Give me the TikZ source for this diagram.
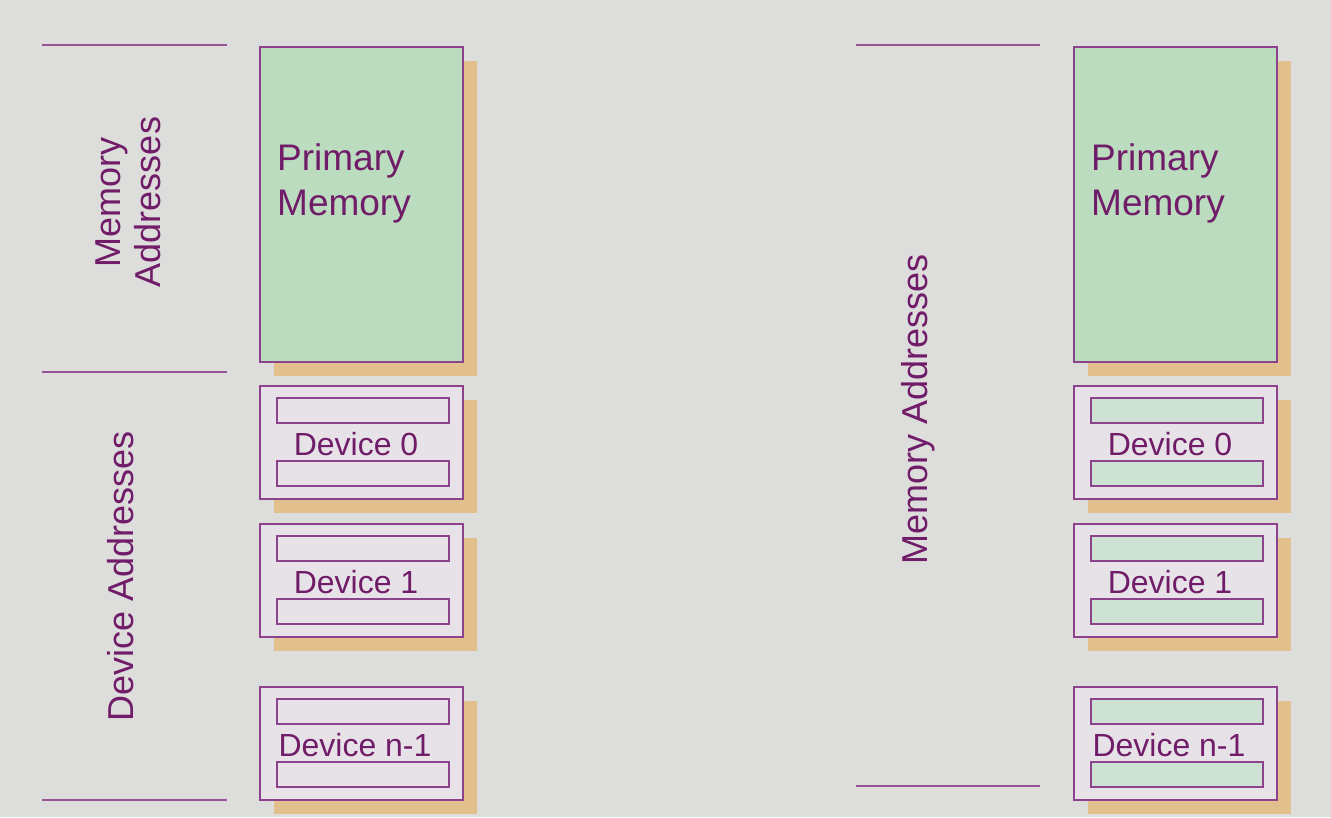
\documentclass[tikz,border=0pt]{standalone}
\usepackage{fontspec}
\setmainfont{Liberation Sans}
\definecolor{bgc}{RGB}{221,221,219}
\definecolor{memgreen}{RGB}{188,220,192}
\definecolor{shadowc}{RGB}{226,192,142}
\definecolor{boxline}{RGB}{140,66,140}
\definecolor{devfill}{RGB}{231,226,231}
\definecolor{barfillR}{RGB}{206,226,212}
\definecolor{txtc}{RGB}{112,28,104}
\definecolor{rulec}{RGB}{150,84,150}
\begin{document}
\begin{tikzpicture}[x=1pt,y=-1pt,
  shadowbox/.style={fill=shadowc,draw=none},
  membox/.style={draw=boxline,line width=2pt,fill=memgreen,rectangle,anchor=north west,inner sep=0pt,minimum width=203pt,minimum height=315pt},
  devbox/.style={draw=boxline,line width=1.8pt,fill=devfill,rectangle,anchor=north west,inner sep=0pt,minimum width=203pt,minimum height=113pt},
  barbox/.style={draw=boxline,line width=1.5pt,rectangle,anchor=north west,inner sep=0pt,minimum width=172pt,minimum height=25pt},
  rulel/.style={draw=rulec,line width=2pt},
  boxlbl/.style={text=txtc,inner sep=0pt,font=\fontsize{37}{44}\selectfont},
  devlbl/.style={text=txtc,inner sep=0pt,font=\fontsize{32}{38}\selectfont},
  axlbl/.style={text=txtc,inner sep=0pt,rotate=90,align=center,font=\fontsize{36}{40}\selectfont}]
\fill[bgc] (0,0) rectangle (1331,817);
\useasboundingbox (0,0) rectangle (1331,817);

% ---------- left column ----------
\coordinate (la1) at (42,45);  \coordinate (la2) at (227,45);
\coordinate (lb1) at (42,372); \coordinate (lb2) at (227,372);
\coordinate (lc1) at (42,800); \coordinate (lc2) at (227,800);
\draw[rulel] (la1) -- (la2);
\draw[rulel] (lb1) -- (lb2);
\draw[rulel] (lc1) -- (lc2);
\node[axlbl] (lmemaddr) at (128,202) {Memory\\Addresses};
\node[axlbl] (ldevaddr) at (121,576) {Device Addresses};

% ---------- right column ----------
\coordinate (ra1) at (856,45);  \coordinate (ra2) at (1040,45);
\coordinate (rc1) at (856,786); \coordinate (rc2) at (1040,786);
\draw[rulel] (ra1) -- (ra2);
\draw[rulel] (rc1) -- (rc2);
\node[axlbl] (rmemaddr) at (918,409) {Memory Addresses};

\foreach \side/\dx/\bar in {L/0/devfill, R/814/barfillR}{
  % primary memory
  \fill[shadowbox] (274+\dx,61) rectangle (477+\dx,376);
  \node[membox] (pm\side) at (259+\dx,46) {};
  \node[boxlbl,anchor=base west] (pmt1\side) at (277+\dx,170) {Primary};
  \node[boxlbl,anchor=base west] (pmt2\side) at (277+\dx,215) {Memory};
  % devices
  \foreach \id/\y/\name/\cx in {a/385/Device 0/356, b/523/Device 1/356, c/686/Device n-1/355}{
    \fill[shadowbox] (274+\dx,\y+15) rectangle (477+\dx,\y+128);
    \node[devbox] (dev\id\side) at (259+\dx,\y) {};
    \node[barbox,fill=\bar] (bartop\id\side) at (276+\dx,\y+12) {};
    \node[barbox,fill=\bar] (barbot\id\side) at (276+\dx,\y+75) {};
    \node[devlbl,anchor=base] (devt\id\side) at (\cx+\dx,\y+70) {\name};
  }
}
\end{tikzpicture}
\end{document}
